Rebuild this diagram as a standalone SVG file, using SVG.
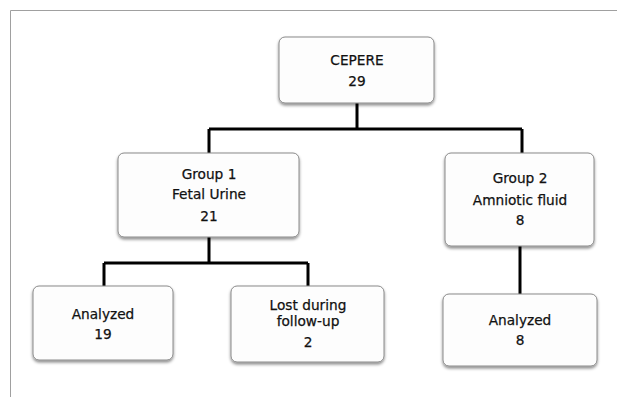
<svg xmlns="http://www.w3.org/2000/svg" width="617" height="397" viewBox="0 0 617 397">
<defs>
<filter id="sh" x="-10%" y="-10%" width="120%" height="130%">
<feDropShadow dx="0" dy="2" stdDeviation="1.5" flood-color="#000" flood-opacity="0.45"/>
</filter>
</defs>
<style>
.box{fill:#fdfdfd;stroke:#8a8a8a;stroke-width:1;filter:url(#sh)}
.t{font-family:"DejaVu Sans",sans-serif;font-size:13.7px;fill:#111;text-anchor:middle;stroke:#111;stroke-width:0.25}
.c{stroke:#000;stroke-width:3;fill:none}
.f{stroke:#a0a0a0;stroke-width:1;fill:none}
</style>
<rect width="617" height="397" fill="#fff"/>
<path class="f" d="M10.5 397V10.5H617"/>
<g id="connectors">
<path class="c" d="M357 103V129M209 129H522M209 129V153M522 129V153"/>
<path class="c" d="M209 237V263M104 263H308M104 263V286M308 263V286"/>
<path class="c" d="M520 246V294"/>
</g>
<g id="cepere">
<rect class="box" x="279" y="37" width="155" height="66" rx="6"/>
<text class="t" x="357" y="65">CEPERE</text>
<text class="t" x="357" y="86">29</text>
</g>
<g id="group1">
<rect class="box" x="118" y="153" width="181" height="84" rx="6"/>
<text class="t" x="209" y="179">Group 1</text>
<text class="t" x="209" y="199">Fetal Urine</text>
<text class="t" x="209" y="221">21</text>
</g>
<g id="group2">
<rect class="box" x="445" y="153" width="149" height="93" rx="6"/>
<text class="t" x="520" y="183">Group 2</text>
<text class="t" x="520" y="205">Amniotic fluid</text>
<text class="t" x="520" y="225">8</text>
</g>
<g id="analyzed19">
<rect class="box" x="33" y="286" width="140" height="74" rx="6"/>
<text class="t" x="103" y="319">Analyzed</text>
<text class="t" x="103" y="339">19</text>
</g>
<g id="lost">
<rect class="box" x="231" y="286" width="153" height="76" rx="6"/>
<text class="t" x="308" y="310">Lost during</text>
<text class="t" x="308" y="326">follow-up</text>
<text class="t" x="308" y="347">2</text>
</g>
<g id="analyzed8">
<rect class="box" x="443" y="294" width="154" height="72" rx="6"/>
<text class="t" x="520" y="325">Analyzed</text>
<text class="t" x="520" y="345">8</text>
</g>
</svg>
